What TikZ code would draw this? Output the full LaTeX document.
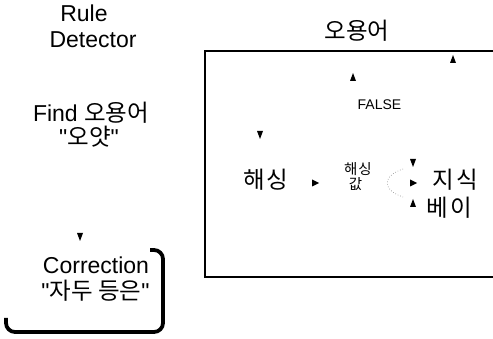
\documentclass[tikz,border=0pt]{standalone}
\usepackage{fontspec}
\setmainfont{Liberation Sans}[Ligatures=TeXOff]
\newfontfamily\kr{Noto Sans CJK KR}
\newcommand\krbig{\kr\fontsize{23.5}{26}\selectfont}
\begin{document}
\begin{tikzpicture}[x=1pt,y=-1pt,
  big/.style={font=\fontsize{23}{26}\selectfont, inner sep=0pt, anchor=base},
  kbig/.style={font=\krbig, inner sep=0pt, anchor=base},
  ksmall/.style={font=\kr\fontsize{14.5}{16}\selectfont, inner sep=0pt, anchor=base},
  small/.style={font=\fontsize{14}{16}\selectfont, inner sep=0pt, anchor=base},
  frame/.style={line width=1.4pt},
  shadow/.style={line width=3.8pt, rounded corners=9pt},
  faint/.style={gray, line width=0.6pt, dotted},
  arrdown/.pic={\fill (-3,-4) -- (3,-4) -- (0,4) -- cycle;},
  arrup/.pic={\fill (-3,4) -- (3,4) -- (0,-4) -- cycle;},
  arrright/.pic={\fill (-3,-3.5) -- (-3,3.5) -- (4,0) -- cycle;}
]
\useasboundingbox (0,0) rectangle (493,339);

% left column
\node[big] (rule) at (84,22) {Rule};
\node[big] (detector) at (93,48) {Detector};
\node[big] (find) at (91,122) {Find {\krbig 오용어}};
\node[big] (oyat) at (89,146) {"{\krbig 오얏}"};
\pic at (80,237) {arrdown};
\node[big] (corr) at (96,274) {Correction};
\node[big] (jadu) at (95.5,300) {"{\krbig 자두 등은}"};
\draw[shadow] (6,318) |- (163,332) |- (150,250);

% right panel
\node[kbig] (title) at (357,40) {오용어};
\draw[frame] (493,51) -- (205,51) -- (205,277) -- (493,277);
\pic at (453,59) {arrup};
\pic at (353,77) {arrup};
\node[small] (false) at (379.5,110) {FALSE};
\pic at (260,135) {arrdown};
\node[kbig] (hashing) at (266,189) {해\kern2pt 싱};
\pic at (315,183) {arrright};
\node[ksmall] (hv1) at (358,175) {해\kern1pt 싱};
\node[ksmall] (hv2) at (355.5,190) {값};
\draw[faint] (403,169) .. controls (382,176) and (382,190) .. (403,197);
\pic at (413,163) {arrdown};
\pic at (413,183) {arrright};
\pic at (413,203) {arrup};
\node[kbig] (jisik) at (455,189) {지\kern2pt 식};
\node[kbig] (bei) at (449,217) {베\kern2pt 이};
\end{tikzpicture}
\end{document}
